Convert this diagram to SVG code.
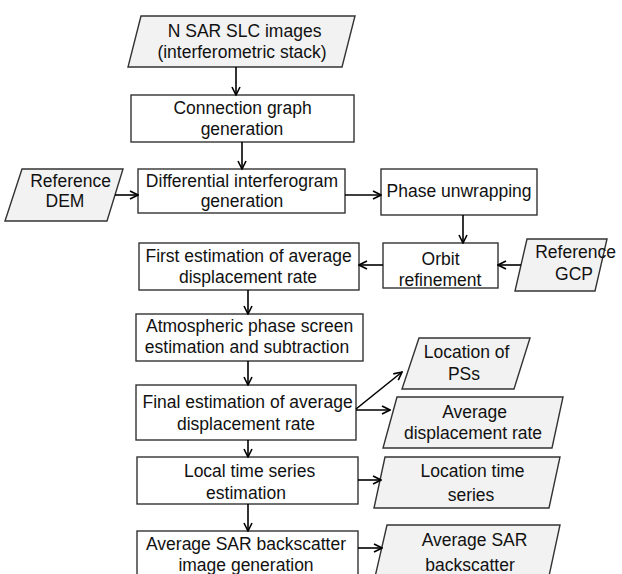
<svg xmlns="http://www.w3.org/2000/svg" width="622" height="574" viewBox="0 0 622 574">
<defs>
<marker id="ah" markerWidth="10" markerHeight="10" refX="9" refY="5" orient="auto" markerUnits="userSpaceOnUse">
<path d="M1,1 L9,5 L1,9" fill="none" stroke="#000" stroke-width="1.6"/>
</marker>
</defs>
<style>
.box{fill:#fff;stroke:#333;stroke-width:1.4}
.io{fill:#f2f2f2;stroke:#333;stroke-width:1.4}
text{font-family:"Liberation Sans",Arial,sans-serif;font-size:17.5px;fill:#111;text-anchor:middle}
.c line{stroke:#000;stroke-width:1.6;marker-end:url(#ah)}
</style>
<rect width="622" height="574" fill="#fff"/>
<g id="n1"><polygon class="io" points="141,16 355,16 342,67 128,67"/>
<text xml:space="preserve" x="247" y="37">N SAR SLC images </text><text x="242" y="58">(interferometric stack)</text></g>
<g id="n2"><rect class="box" x="131" y="95" width="223" height="47"/>
<text xml:space="preserve" x="245" y="114">Connection graph </text><text x="242" y="135">generation</text></g>
<g id="n3"><polygon class="io" points="22,169 123,169 107,221 5,221"/>
<text xml:space="preserve" x="73" y="187">Reference </text><text x="65" y="207">DEM</text></g>
<g id="n4"><rect class="box" x="138" y="169" width="207" height="44"/>
<text xml:space="preserve" x="242" y="187">Differential interferogram</text><text x="242" y="207">generation</text></g>
<g id="n5"><rect class="box" x="381" y="169" width="156" height="46"/>
<text xml:space="preserve" x="459" y="197">Phase unwrapping</text></g>
<g id="n6"><rect class="box" x="383" y="243" width="115" height="45"/>
<text xml:space="preserve" x="443" y="265">Orbit </text><text x="440" y="286">refinement</text></g>
<g id="n7"><polygon class="io" points="527,239 607,239 595,291 515,291"/>
<text xml:space="preserve" x="578" y="258">Reference </text><text x="574" y="280">GCP</text></g>
<g id="n8"><rect class="box" x="139" y="243" width="220" height="47"/>
<text xml:space="preserve" x="251" y="262">First estimation of average </text><text xml:space="preserve" x="248" y="283">displacement rate</text></g>
<g id="n9"><rect class="box" x="136" y="314" width="227" height="47"/>
<text xml:space="preserve" x="252" y="332">Atmospheric phase screen </text><text xml:space="preserve" x="247" y="353">estimation and subtraction</text></g>
<g id="n10"><rect class="box" x="136" y="385" width="220" height="55"/>
<text xml:space="preserve" x="250" y="408">Final estimation of average </text><text xml:space="preserve" x="246" y="430">displacement rate</text></g>
<g id="n11"><polygon class="io" points="419,338 530,338 514,389 402,389"/>
<text xml:space="preserve" x="469" y="358">Location of </text><text x="464" y="380">PSs</text></g>
<g id="n12"><polygon class="io" points="397,397 563,397 552,448 383,448"/>
<text xml:space="preserve" x="477" y="418">Average </text><text xml:space="preserve" x="473" y="439">displacement rate</text></g>
<g id="n13"><rect class="box" x="137" y="457" width="221" height="47"/>
<text xml:space="preserve" x="252" y="477">Local time series </text><text x="246" y="499">estimation</text></g>
<g id="n14"><polygon class="io" points="385,457 560,457 549,508 374,508"/>
<text xml:space="preserve" x="475" y="477">Location time </text><text x="471" y="501">series</text></g>
<g id="n15"><rect class="box" x="137" y="531" width="221" height="60"/>
<text xml:space="preserve" x="246" y="550">Average SAR backscatter</text><text xml:space="preserve" x="246" y="571">image generation</text></g>
<g id="n16"><polygon class="io" points="387,525 560,525 546,590 372,590"/>
<text xml:space="preserve" x="477" y="546">Average SAR </text><text x="470" y="571">backscatter</text></g>
<g class="c" id="connectors">
<line x1="236" y1="67" x2="236" y2="95"/>
<line x1="242" y1="142" x2="242" y2="169"/>
<line x1="115" y1="195" x2="138" y2="195"/>
<line x1="345" y1="195" x2="381" y2="195"/>
<line x1="463" y1="215" x2="463" y2="243"/>
<line x1="521" y1="265" x2="498" y2="265"/>
<line x1="383" y1="265" x2="359" y2="265"/>
<line x1="248" y1="290" x2="248" y2="314"/>
<line x1="248" y1="361" x2="248" y2="385"/>
<line x1="356" y1="409" x2="402" y2="372"/>
<line x1="356" y1="410" x2="390" y2="410"/>
<line x1="248" y1="440" x2="248" y2="457"/>
<line x1="358" y1="480" x2="381" y2="480"/>
<line x1="248" y1="504" x2="248" y2="531"/>
<line x1="358" y1="548" x2="382" y2="548"/>
</g>
</svg>
